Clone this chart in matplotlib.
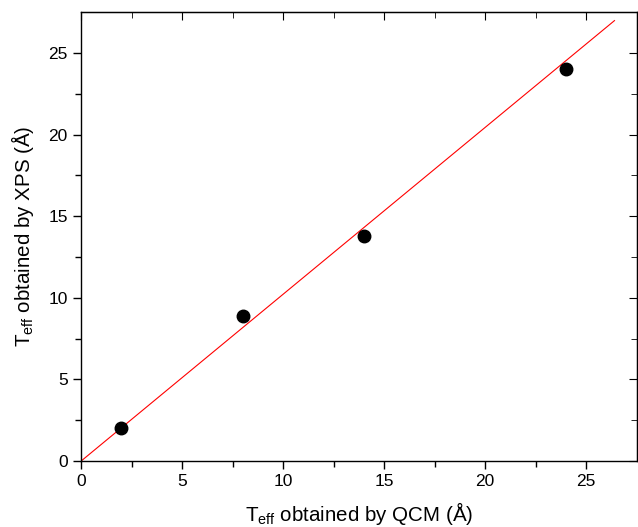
import numpy as np
import matplotlib.pyplot as plt

plt.rcParams['font.family'] = ['Liberation Sans', 'DejaVu Sans']

# Data
qcm = [2, 8, 14, 24]
xps = [2.0, 8.9, 13.8, 24.0]

# Fit line through the origin
slope = 1.022
fit_x = np.array([0, 26.4])
fit_y = slope * fit_x

fig = plt.figure(figsize=(6.38, 5.27), dpi=100)
ax = fig.add_axes([0.127, 0.125, 0.871, 0.852])

ax.plot(fit_x, fit_y, color='red', linewidth=0.8)
ax.plot(qcm, xps, 'o', color='black', markersize=9)

ax.set_xlim(0, 27.5)
ax.set_ylim(0, 27.5)
ax.set_xticks([0, 5, 10, 15, 20, 25])
ax.set_yticks([0, 5, 10, 15, 20, 25])
ax.set_xticks(np.arange(2.5, 27.5, 5), minor=True)
ax.set_yticks(np.arange(2.5, 27.5, 5), minor=True)

ax.tick_params(which='both', direction='out', labelsize=12.5, width=1)
ax.tick_params(which='major', length=6)
ax.tick_params(which='minor', length=4)
for s in ax.spines.values():
    s.set_linewidth(1)

# inward ticks on top and right
axt = ax.secondary_xaxis('top')
axt.set_xticks([0, 5, 10, 15, 20, 25])
axt.set_xticks(np.arange(2.5, 27.5, 5), minor=True)
axt.tick_params(which='both', direction='in', labeltop=False)
axt.tick_params(which='major', length=6)
axt.tick_params(which='minor', length=4)
axr = ax.secondary_yaxis('right')
axr.set_yticks([0, 5, 10, 15, 20, 25])
axr.set_yticks(np.arange(2.5, 27.5, 5), minor=True)
axr.tick_params(which='both', direction='in', labelright=False)
axr.tick_params(which='major', length=6)
axr.tick_params(which='minor', length=4)

ax.set_xlabel(r'T$_\mathregular{eff}$ obtained by QCM (Å)', fontsize=14.8, labelpad=8)
ax.set_ylabel(r'T$_\mathregular{eff}$ obtained by XPS (Å)', fontsize=14.8, labelpad=9)

fig.savefig('out.png', dpi=100)
